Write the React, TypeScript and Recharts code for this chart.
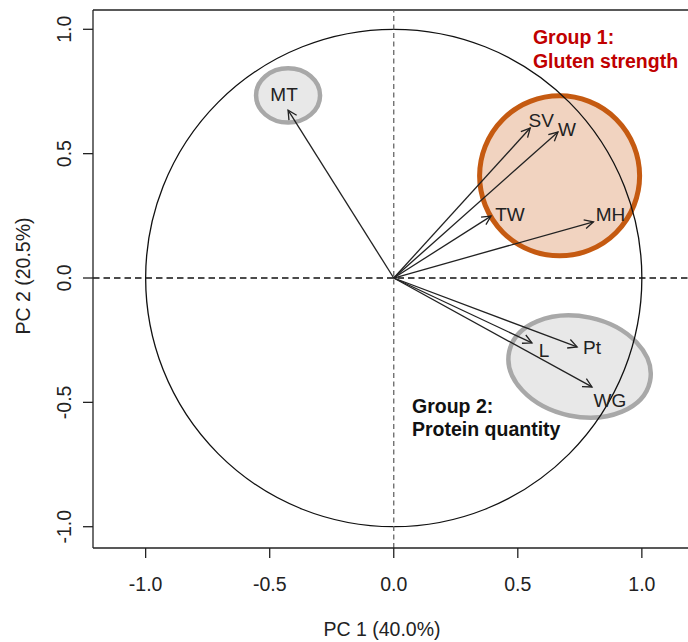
import React from 'react';
import {
  ScatterChart,
  Scatter,
  XAxis,
  YAxis,
  ReferenceLine,
  ReferenceArea,
  ReferenceDot,
} from 'recharts';

// Loadings of each trait on the first two principal components
const traits = ['MT', 'SV', 'W', 'TW', 'MH', 'L', 'Pt', 'WG'];
const pc1 = [-0.426, 0.55, 0.662, 0.392, 0.805, 0.557, 0.739, 0.799];
const pc2 = [0.675, 0.603, 0.587, 0.249, 0.226, -0.261, -0.277, -0.438];

const xTicks = [-1, -0.5, 0, 0.5, 1];
const yTicks = [-1, -0.5, 0, 0.5, 1];

const FONT = '"Liberation Sans", Arial, Helvetica, sans-serif';
const INK = '#222';

// label nudges (px) so names don't sit on the arrow heads
const nudge: Record<string, [number, number]> = {
  MT: [-4, -15.5],
  SV: [11, -8],
  W: [9, -3],
  TW: [19, -1.5],
  MH: [17, -7.5],
  L: [12, 7],
  Pt: [15, 0],
  WG: [18, 13],
};

const points = traits.map((name, i) => ({ name, x: pc1[i], y: pc2[i] }));

const ellipseShape =
  (fill: string, stroke: string, strokeWidth: number, angle = 0) =>
  (p: any) => {
    const cx = p.x + p.width / 2;
    const cy = p.y + p.height / 2;
    return (
      <ellipse
        cx={cx}
        cy={cy}
        rx={Math.abs(p.width) / 2}
        ry={Math.abs(p.height) / 2}
        fill={fill}
        stroke={stroke}
        strokeWidth={strokeWidth}
        transform={angle ? `rotate(${angle} ${cx} ${cy})` : undefined}
      />
    );
  };

const arrowShape = (p: any) => {
  const { x1, y1, x2, y2 } = p;
  const a = Math.atan2(y2 - y1, x2 - x1);
  const len = 10;
  const spread = (27 * Math.PI) / 180;
  const h1x = x2 - len * Math.cos(a - spread);
  const h1y = y2 - len * Math.sin(a - spread);
  const h2x = x2 - len * Math.cos(a + spread);
  const h2y = y2 - len * Math.sin(a + spread);
  return (
    <g stroke={INK} strokeWidth={1.3} fill="none">
      <line x1={x1} y1={y1} x2={x2} y2={y2} />
      <polyline points={`${h1x},${h1y} ${x2},${y2} ${h2x},${h2y}`} />
    </g>
  );
};

const TraitLabel = (p: any) => {
  const [dx, dy] = nudge[p.payload.name] || [0, 0];
  return (
    <text
      x={p.cx + dx}
      y={p.cy + dy}
      dy="0.36em"
      textAnchor="middle"
      fontFamily={FONT}
      fontSize={19}
      fill={INK}
    >
      {p.payload.name}
    </text>
  );
};

const groupNote = (lines: string[], color: string) => (props: any) => {
  const { x, y } = props.viewBox;
  return (
    <text x={x} y={y} fontFamily={FONT} fontSize={19.5} fontWeight="bold" fill={color}>
      {lines.map((l, i) => (
        <tspan key={l} x={x} dy={i === 0 ? 0 : 23.5}>
          {l}
        </tspan>
      ))}
    </text>
  );
};

const YTick = (p: any) => (
  <text
    x={p.x}
    y={p.y}
    transform={`rotate(-90 ${p.x} ${p.y})`}
    textAnchor="middle"
    fontFamily={FONT}
    fontSize={19.5}
    fill={INK}
  >
    {Number(p.payload.value).toFixed(1)}
  </text>
);

export default function App() {
  return (
    <div style={{ position: 'absolute', left: 0, top: 0 }}>
      <ScatterChart width={688} height={642} margin={{ top: 10, right: 0, bottom: 0, left: 0 }}>
        <XAxis
          type="number"
          dataKey="x"
          domain={[-1.2122, 1.186]}
          allowDataOverflow
          ticks={xTicks}
          tickFormatter={(v: number) => v.toFixed(1)}
          height={94}
          tickSize={10}
          tickMargin={19}
          stroke={INK}
          axisLine={{ stroke: INK, strokeWidth: 1.3 }}
          tickLine={{ stroke: INK, strokeWidth: 1.3 }}
          tick={{ fill: INK, fontSize: 19.5, fontFamily: FONT }}
          label={{
            content: (props: any) => {
              const vb = props.viewBox;
              return (
                <text
                  x={vb.x + vb.width / 2 - 8.5}
                  y={636}
                  textAnchor="middle"
                  fontFamily={FONT}
                  fontSize={19.5}
                  fill={INK}
                >
                  PC 1 (40.0%)
                </text>
              );
            },
          }}
        />
        <YAxis
          type="number"
          dataKey="y"
          domain={[-1.0856, 1.0776]}
          allowDataOverflow
          ticks={yTicks}
          width={93}
          tickSize={10}
          tickMargin={12}
          axisLine={{ stroke: INK, strokeWidth: 1.3 }}
          tickLine={{ stroke: INK, strokeWidth: 1.3 }}
          tick={<YTick />}
          label={{
            content: (props: any) => {
              const vb = props.viewBox;
              const cx = 29.5;
              const cy = vb.y + vb.height / 2 - 3;
              return (
                <text
                  x={cx}
                  y={cy}
                  transform={`rotate(-90 ${cx} ${cy})`}
                  textAnchor="middle"
                  fontFamily={FONT}
                  fontSize={19.5}
                  fill={INK}
                >
                  PC 2 (20.5%)
                </text>
              );
            },
          }}
        />

        {/* group outlines */}
        <ReferenceArea
          x1={-0.555}
          x2={-0.297}
          y1={0.625}
          y2={0.843}
          shape={ellipseShape('#E8E8E8', '#A8A8A8', 4.5)}
        />
        <ReferenceArea
          x1={0.346}
          x2={0.991}
          y1={0.089}
          y2={0.733}
          shape={ellipseShape('#F1D3C0', '#C55A11', 5)}
        />
        <ReferenceArea
          x1={0.459}
          x2={1.039}
          y1={-0.557}
          y2={-0.155}
          shape={ellipseShape('#E8E8E8', '#A8A8A8', 4.5, 12)}
        />
        {/* correlation circle */}
        <ReferenceArea x1={-1} x2={1} y1={-1} y2={1} shape={ellipseShape('none', '#111', 1.3)} />

        {/* frame top edge and origin guides */}
        <ReferenceLine y={1.0776} stroke={INK} strokeWidth={1.3} />
        <ReferenceLine x={0} stroke="#666" strokeWidth={1.3} strokeDasharray="5 3.5" />
        <ReferenceLine y={0} stroke="#111" strokeWidth={1.3} strokeDasharray="6.5 4" />

        {points.map((pt) => (
          <ReferenceLine
            key={pt.name}
            segment={[
              { x: 0, y: 0 },
              { x: pt.x, y: pt.y },
            ]}
            shape={arrowShape}
          />
        ))}

        <ReferenceDot
          x={0.561}
          y={0.939}
          r={0}
          fill="none"
          stroke="none"
          label={{ content: groupNote(['Group 1:', 'Gluten strength'], '#C00000') }}
        />
        <ReferenceDot
          x={0.0736}
          y={-0.542}
          r={0}
          fill="none"
          stroke="none"
          label={{ content: groupNote(['Group 2:', 'Protein quantity'], '#111') }}
        />

        <Scatter data={points} shape={<TraitLabel />} isAnimationActive={false} />
      </ScatterChart>
    </div>
  );
}
